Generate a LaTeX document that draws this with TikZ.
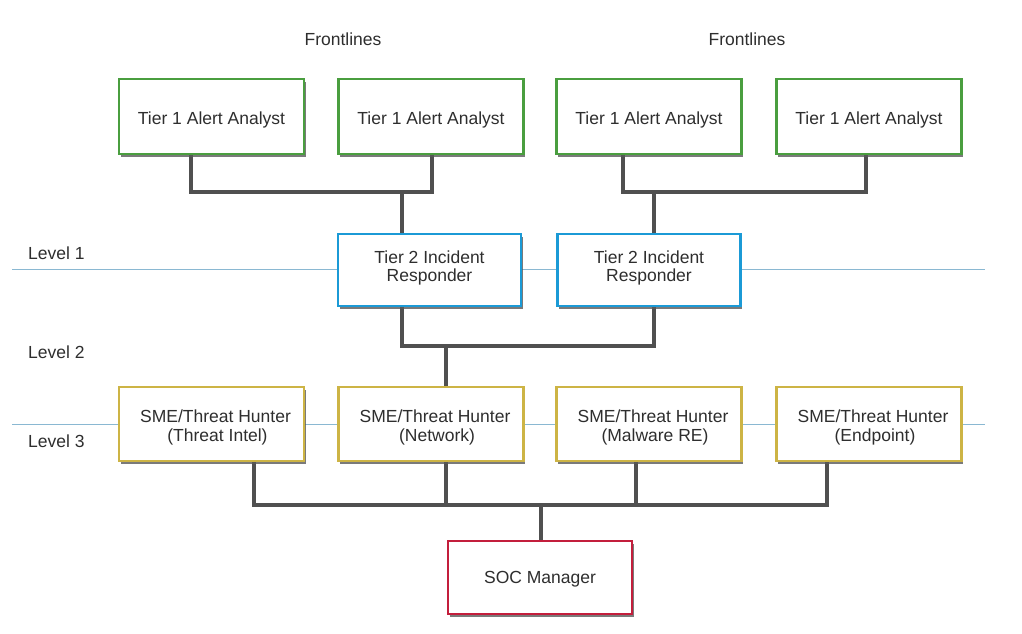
\documentclass[tikz,border=0pt]{standalone}
\usepackage{fontspec}
\setmainfont{Liberation Sans}
\usetikzlibrary{shadows,calc}
\definecolor{tgreen}{HTML}{4A9E3F}
\definecolor{tblue}{HTML}{1B9AD6}
\definecolor{tgold}{HTML}{CDB445}
\definecolor{tred}{HTML}{C31E3C}
\definecolor{tline}{HTML}{8AB8D2}
\definecolor{tconn}{HTML}{505050}
\definecolor{ttext}{HTML}{2E2E2E}
\newcommand{\bxt}[2][-4pt]{\raisebox{#1}[\height][\depth]{\begin{tabular}{@{}c@{}}#2\end{tabular}}}
\tikzset{
  box/.style={draw, line width=2.4pt, fill=white, text=ttext, align=center,
    minimum width=185pt, minimum height=75pt, inner sep=2pt,
    font=\fontsize{17.5}{18.5}\selectfont,
    drop shadow={shadow xshift=1.5pt, shadow yshift=-2.5pt, opacity=0.8, fill=black!65}},
  t1box/.style={box, draw=tgreen},
  t2box/.style={box, draw=tblue, minimum width=183pt, minimum height=72pt},
  smebox/.style={box, draw=tgold, minimum height=74pt},
  socbox/.style={box, draw=tred, minimum width=184pt, minimum height=73pt},
  conn/.style={draw=tconn, line width=4pt},
  lvl/.style={draw=tline, line width=1pt},
  lbl/.style={text=ttext, font=\fontsize{17.5}{18.5}\selectfont, inner sep=0pt}
}
\begin{document}
\begin{tikzpicture}[x=1pt,y=1pt]
\useasboundingbox (0,0) rectangle (1022,-634);
% level lines
\coordinate (l1a) at (12,-269);
\coordinate (l1b) at (985,-269);
\coordinate (l3a) at (12,-424);
\coordinate (l3b) at (985,-424);
\draw[lvl] (l1a) -- (l1b);
\draw[lvl] (l3a) -- (l3b);
% labels
\node[lbl] (fl1) at (343,-39) {Frontlines};
\node[lbl] (fl2) at (747,-39) {Frontlines};
\node[lbl, anchor=west] (lv1) at (28,-253.5) {Level 1};
\node[lbl, anchor=west] (lv2) at (28,-352.5) {Level 2};
\node[lbl, anchor=west] (lv3) at (28,-441.5) {Level 3};
% bus coordinates
\coordinate (b1) at (402,-192);
\coordinate (b1r) at (654,-192);
\coordinate (b2) at (446,-346);
\coordinate (b3) at (541,-505);
% connectors (drawn first, boxes cover ends)
\coordinate (t1as) at (191,-154);
\coordinate (t1bs) at (432,-154);
\coordinate (t1cs) at (623,-154);
\coordinate (t1ds) at (866,-154);
\draw[conn] (t1as) |- (b1) -| (t1bs);
\draw[conn] (t1cs) |- (b1r) -| (t1ds);
\draw[conn] (b1) -- ++(0,-42);
\draw[conn] (b1r) -- ++(0,-42);
\coordinate (t2as) at (402,-306);
\coordinate (t2bs) at (654,-306);
\draw[conn] (t2as) |- (b2) -| (t2bs);
\draw[conn] (b2) -- ++(0,-41);
\coordinate (s1s) at (254,-461);
\coordinate (s2s) at (446,-461);
\coordinate (s3s) at (636,-461);
\coordinate (s4s) at (827,-461);
\draw[conn] (s1s) |- (b3) -| (s4s);
\draw[conn] (s2s) -- (s2s |- b3);
\draw[conn] (s3s) -- (s3s |- b3);
\draw[conn] (b3) -- ++(0,-36);
% boxes
\node[t1box] (T1a) at (211.5,-116.5) {\bxt{Tier 1 Alert Analyst}};
\node[t1box] (T1b) at (431,-116.5) {\bxt{Tier 1 Alert Analyst}};
\node[t1box] (T1c) at (649,-116.5) {\bxt{Tier 1 Alert Analyst}};
\node[t1box] (T1d) at (869,-116.5) {\bxt{Tier 1 Alert Analyst}};
\node[t2box] (T2a) at (429.5,-270) {\bxt[1pt]{Tier 2 Incident\\Responder}};
\node[t2box] (T2b) at (649,-270) {\bxt[1pt]{Tier 2 Incident\\Responder}};
\node[smebox] (S1) at (211.5,-424) {\bxt[-4.5pt]{\hspace*{8pt}SME/Threat Hunter\\\hspace*{12pt}(Threat Intel)}};
\node[smebox] (S2) at (431,-424) {\bxt[-4.5pt]{\hspace*{8pt}SME/Threat Hunter\\\hspace*{12pt}(Network)}};
\node[smebox] (S3) at (649,-424) {\bxt[-4.5pt]{\hspace*{8pt}SME/Threat Hunter\\\hspace*{12pt}(Malware RE)}};
\node[smebox] (S4) at (869,-424) {\bxt[-4.5pt]{\hspace*{8pt}SME/Threat Hunter\\\hspace*{12pt}(Endpoint)}};
\node[socbox] (SOC) at (540,-577.5) {\bxt[-2pt]{SOC Manager}};
\end{tikzpicture}
\end{document}
